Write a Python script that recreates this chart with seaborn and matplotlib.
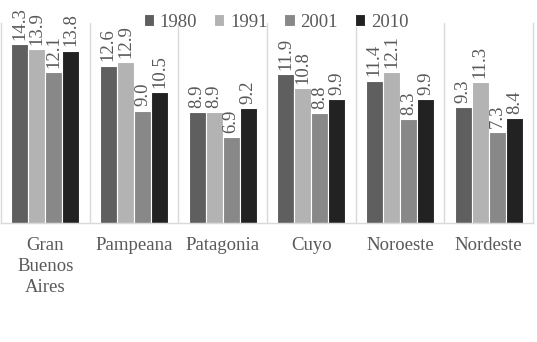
import matplotlib
matplotlib.use("Agg")
import matplotlib.pyplot as plt
import seaborn as sns
import pandas as pd

regions = ["Gran\nBuenos\nAires", "Pampeana", "Patagonia", "Cuyo", "Noroeste", "Nordeste"]
years = ["1980", "1991", "2001", "2010"]
v1980 = [14.3, 12.6, 8.9, 11.9, 11.4, 9.3]
v1991 = [13.9, 12.9, 8.9, 10.8, 12.1, 11.3]
v2001 = [12.1, 9.0, 6.9, 8.8, 8.3, 7.3]
v2010 = [13.8, 10.5, 9.2, 9.9, 9.9, 8.4]

colors = ["#5f5f5f", "#b3b3b3", "#888888", "#222222"]

rows = []
for yr, vals in zip(years, [v1980, v1991, v2001, v2010]):
    for r, v in zip(regions, vals):
        rows.append({"region": r, "year": yr, "value": v})
df = pd.DataFrame(rows)

sns.set_style("white")
plt.rcParams["font.family"] = ["Liberation Serif", "DejaVu Serif"]

fig = plt.figure(figsize=(5.37, 3.42), dpi=100)
ax = fig.add_axes([1 / 537, 119 / 342, 532 / 537, 200 / 342])

sns.barplot(data=df, x="region", y="value", hue="year", order=regions,
            hue_order=years, palette=colors, width=0.77, ax=ax,
            edgecolor="white", linewidth=0.8, saturation=1, errorbar=None)

ax.set_ylim(0, 16)
ax.set_xlim(-0.5, len(regions) - 0.5)
ax.set_xlabel("")
ax.set_ylabel("")
ax.set_yticks([])

for c in ax.containers:
    labels = ax.bar_label(c, fmt="%.1f", rotation=90, padding=3,
                          color="#595959", fontsize=13.5)
    for t in labels:
        t.set_clip_on(False)

for i in range(len(regions) - 1):
    ax.axvline(i + 0.5, color="#d9d9d9", linewidth=1)

ax.spines["top"].set_visible(False)
for side in ["left", "bottom", "right"]:
    ax.spines[side].set_color("#d9d9d9")
    ax.spines[side].set_linewidth(1)

ax.tick_params(axis="x", length=0, pad=10, labelsize=13.5, labelcolor="#595959")
for t in ax.get_xticklabels():
    t.set_linespacing(1.3)

leg = ax.legend(loc="center", bbox_to_anchor=(0.514, 0.935),
                bbox_transform=fig.transFigure, ncol=4, frameon=False,
                handlelength=0.55, handleheight=0.55, handletextpad=0.3,
                columnspacing=0.9, fontsize=13.5, borderaxespad=0,
                borderpad=0)
for t in leg.get_texts():
    t.set_color("#595959")

fig.savefig("out.png", dpi=100)
